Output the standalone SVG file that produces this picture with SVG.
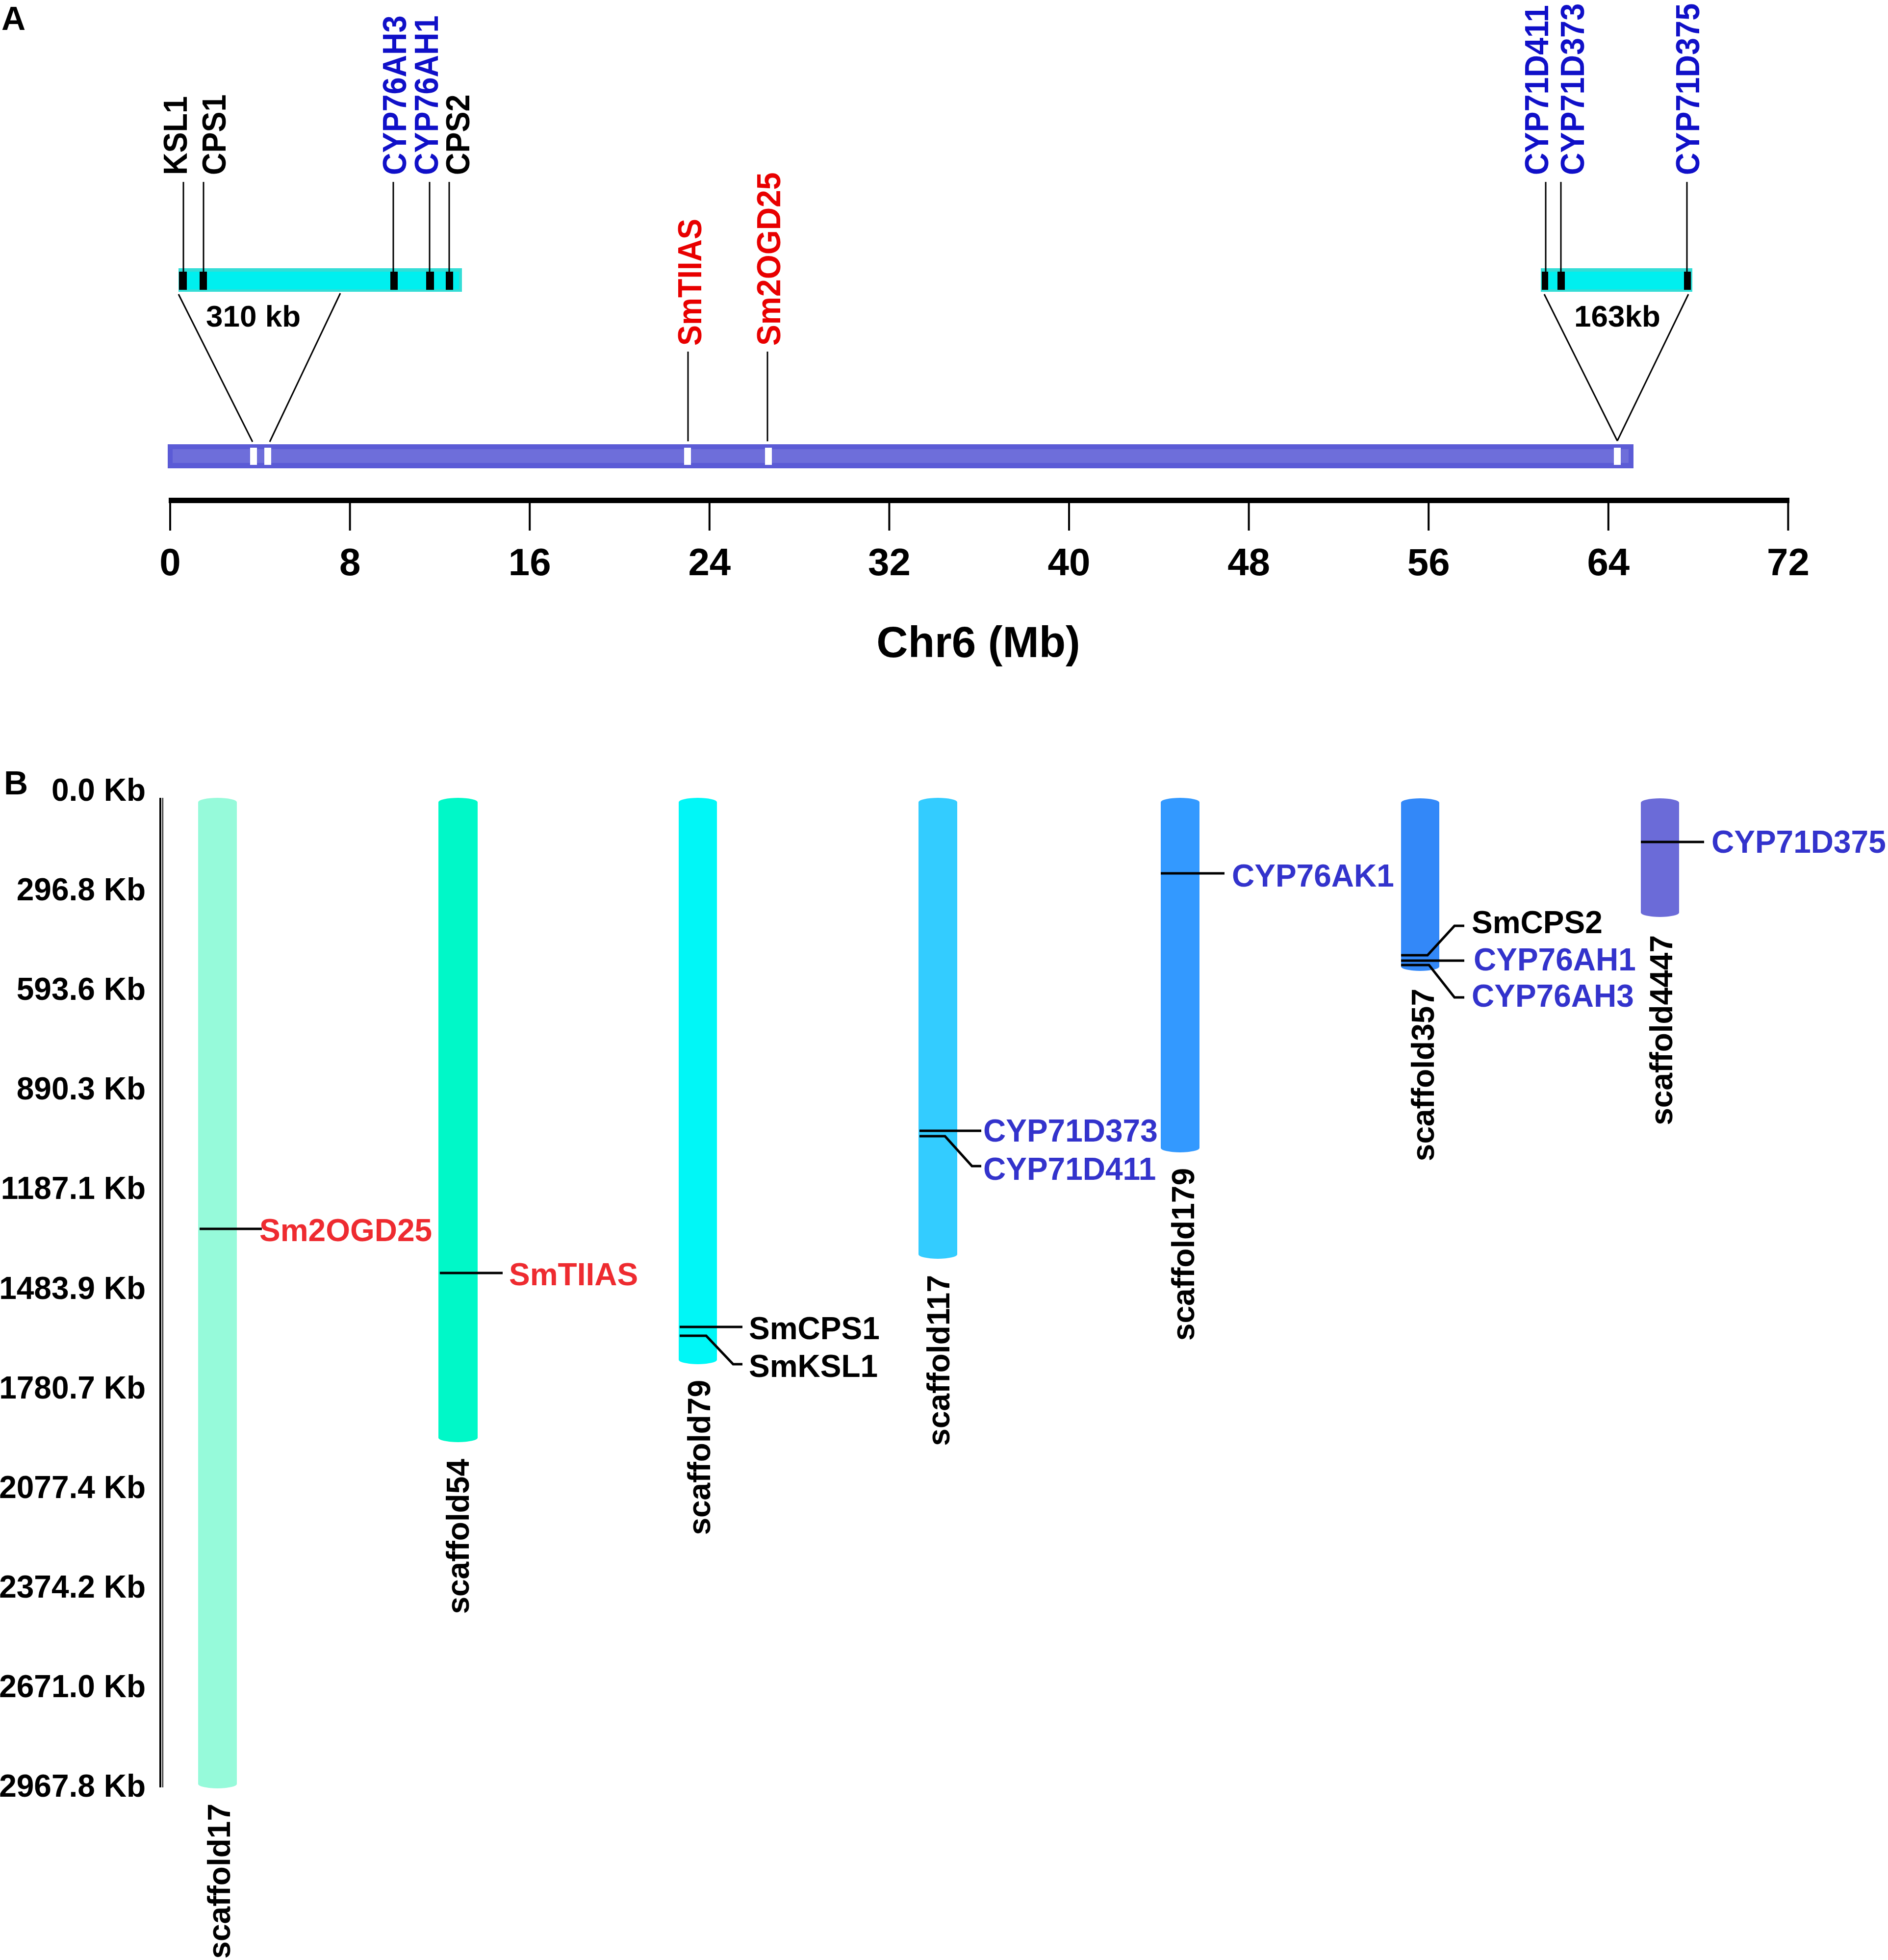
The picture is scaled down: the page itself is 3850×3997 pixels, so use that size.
<svg xmlns="http://www.w3.org/2000/svg" width="3850" height="3997" viewBox="0 0 3850 3997">
<style>
text{font-family:"Liberation Sans",Arial,sans-serif;font-weight:bold}
.k{fill:#000}
.ba{fill:#1010C8}
.ra{fill:#E80000}
.bb{fill:#3333CC}
.rb{fill:#EE2B30}
.vl{font-size:63px}
.gl{font-size:64px}
.ln{stroke:#000;stroke-width:3;fill:none}
.gln{stroke:#000;stroke-width:5;fill:none}
.mk{fill:#000}
.wm{fill:#fff}
</style>
<rect width="3850" height="3997" fill="#fff"/>
<text x="3" y="61" style="font-size:68px">A</text>
<text x="8" y="1620" style="font-size:68px">B</text>

<!-- Panel A: chromosome -->
<g id="chr6">
<rect x="342" y="906" width="2989" height="49" fill="#5B5BD6"/>
<rect x="352" y="916" width="2969" height="28" fill="#6E6EDA"/>
<rect class="wm" x="510" y="913" width="14" height="35"/>
<rect class="wm" x="539" y="913" width="14" height="35"/>
<rect class="wm" x="1395" y="913" width="14" height="35"/>
<rect class="wm" x="1560" y="913" width="14" height="35"/>
<rect class="wm" x="3291" y="913" width="14" height="35"/>
</g>

<g id="cluster310">
<rect x="364" y="547" width="578" height="48" fill="#33DDD6"/>
<rect x="370" y="554" width="566" height="36" fill="#00EFEF"/>
<rect class="mk" x="365" y="554" width="16" height="37"/>
<rect class="mk" x="407" y="554" width="15" height="37"/>
<rect class="mk" x="796" y="554" width="15" height="37"/>
<rect class="mk" x="869" y="554" width="16" height="37"/>
<rect class="mk" x="909" y="554" width="15" height="37"/>
<text x="420" y="666" style="font-size:62px">310 kb</text>
</g>

<g id="cluster163">
<rect x="3142" y="547" width="309" height="48" fill="#33DDD6"/>
<rect x="3148" y="554" width="297" height="36" fill="#00EFEF"/>
<rect class="mk" x="3144" y="554" width="13" height="37"/>
<rect class="mk" x="3176" y="554" width="15" height="37"/>
<rect class="mk" x="3434" y="554" width="14" height="37"/>
<text x="3210" y="666" style="font-size:62px">163kb</text>
</g>

<g id="labelsA">
<text class="vl k" transform="translate(381,357) rotate(-90) scale(1,1.1)">KSL1</text>
<text class="vl k" transform="translate(460,357) rotate(-90) scale(1,1.1)">CPS1</text>
<text class="vl ba" transform="translate(828,357) rotate(-90) scale(1,1.1)">CYP76AH3</text>
<text class="vl ba" transform="translate(893,357) rotate(-90) scale(1,1.1)">CYP76AH1</text>
<text class="vl k" transform="translate(957,357) rotate(-90) scale(1,1.1)">CPS2</text>
<text class="vl ra" transform="translate(1430,705) rotate(-90) scale(1,1.1)">SmTIIAS</text>
<text class="vl ra" transform="translate(1591,705) rotate(-90) scale(1.02,1.1)">Sm2OGD25</text>
<text class="vl ba" transform="translate(3157,357) rotate(-90) scale(1,1.1)">CYP71D411</text>
<text class="vl ba" transform="translate(3230,357) rotate(-90) scale(1,1.1)">CYP71D373</text>
<text class="vl ba" transform="translate(3465,357) rotate(-90) scale(1,1.1)">CYP71D375</text>
</g>

<g id="connectorsA">
<path class="ln" d="M374 371V555M415 371V555M802 371V555M876 371V555M916 371V555M3152 371V555M3183 371V555M3440 371V555M1403 717V900M1565 717V900"/>
<path class="ln" d="M364 600L515 901M694 598L550 901M3149 600L3298 899M3443 600L3298 899"/>
</g>

<g id="axisA">
<rect x="344" y="1015" width="3305" height="11" fill="#000"/>
<path stroke="#000" stroke-width="4" d="M347 1020V1082M713.6 1020V1082M1080.2 1020V1082M1446.8 1020V1082M1813.4 1020V1082M2180 1020V1082M2546.6 1020V1082M2913.2 1020V1082M3279.8 1020V1082M3646.4 1020V1082"/>
<g style="font-size:78px" text-anchor="middle">
<text x="347" y="1173">0</text>
<text x="713.6" y="1173">8</text>
<text x="1080.2" y="1173">16</text>
<text x="1446.8" y="1173">24</text>
<text x="1813.4" y="1173">32</text>
<text x="2180" y="1173">40</text>
<text x="2546.6" y="1173">48</text>
<text x="2913.2" y="1173">56</text>
<text x="3279.8" y="1173">64</text>
<text x="3646.4" y="1173">72</text>
</g>
<text x="1995" y="1340" text-anchor="middle" style="font-size:89px">Chr6 (Mb)</text>
</g>

<!-- Panel B -->
<g id="axisB">
<line x1="327" y1="1627" x2="327" y2="3645" stroke="#000" stroke-width="4"/>
<line x1="332" y1="1627" x2="332" y2="3645" stroke="#111" stroke-width="2"/>
<g style="font-size:64px" text-anchor="end">
<text x="297" y="1633">0.0 Kb</text>
<text x="297" y="1836">296.8 Kb</text>
<text x="297" y="2039">593.6 Kb</text>
<text x="297" y="2242">890.3 Kb</text>
<text x="297" y="2445">1187.1 Kb</text>
<text x="297" y="2649">1483.9 Kb</text>
<text x="297" y="2852">1780.7 Kb</text>
<text x="297" y="3055">2077.4 Kb</text>
<text x="297" y="3258">2374.2 Kb</text>
<text x="297" y="3461">2671.0 Kb</text>
<text x="297" y="3664">2967.8 Kb</text>
</g>
</g>

<g id="scaffold17">
<path fill="#96FADA" d="M404 1636A39.5 9 0 0 1 483 1636V3638A39.5 9 0 0 1 404 3638Z"/>
<text class="gl k" text-anchor="end" transform="translate(469,3678) rotate(-90)">scaffold17</text>
</g>
<g id="scaffold54">
<path fill="#00F8C8" d="M894 1636A40 9 0 0 1 974 1636V2932A40 9 0 0 1 894 2932Z"/>
<text class="gl k" text-anchor="end" transform="translate(956,2975) rotate(-90)">scaffold54</text>
</g>
<g id="scaffold79">
<path fill="#00F7F7" d="M1384 1636A39 9 0 0 1 1462 1636V2773A39 9 0 0 1 1384 2773Z"/>
<text class="gl k" text-anchor="end" transform="translate(1448,2814) rotate(-90)">scaffold79</text>
</g>
<g id="scaffold117">
<path fill="#33CCFF" d="M1873 1636A39.5 9 0 0 1 1952 1636V2558A39.5 9 0 0 1 1873 2558Z"/>
<text class="gl k" text-anchor="end" transform="translate(1936,2600) rotate(-90)">scaffold117</text>
</g>
<g id="scaffold179">
<path fill="#3399FF" d="M2367 1636A39.5 9 0 0 1 2446 1636V2341A39.5 9 0 0 1 2367 2341Z"/>
<text class="gl k" text-anchor="end" transform="translate(2435,2382) rotate(-90)">scaffold179</text>
</g>
<g id="scaffold357">
<path fill="#3388F8" d="M2857 1637A39 9 0 0 1 2935 1637V1971A39 9 0 0 1 2857 1971Z"/>
<text class="gl k" text-anchor="end" transform="translate(2924,2016) rotate(-90)">scaffold357</text>
</g>
<g id="scaffold4447">
<path fill="#6B6BD8" d="M3346 1637A39 9 0 0 1 3424 1637V1861A39 9 0 0 1 3346 1861Z"/>
<text class="gl k" text-anchor="end" transform="translate(3410,1907) rotate(-90)">scaffold4447</text>
</g>

<g id="genesB">
<text class="gl rb" x="529" y="2531">Sm2OGD25</text>
<text class="gl rb" x="1038" y="2621">SmTIIAS</text>
<text class="gl k" x="1527" y="2731">SmCPS1</text>
<text class="gl k" x="1527" y="2808">SmKSL1</text>
<text class="gl bb" x="2005" y="2328">CYP71D373</text>
<text class="gl bb" x="2005" y="2406">CYP71D411</text>
<text class="gl bb" x="2512" y="1808">CYP76AK1</text>
<text class="gl k" x="3001" y="1903">SmCPS2</text>
<text class="gl bb" x="3005" y="1979">CYP76AH1</text>
<text class="gl bb" x="3001" y="2053">CYP76AH3</text>
<text class="gl bb" x="3490" y="1739">CYP71D375</text>
</g>

<g id="connectorsB">
<path class="gln" d="M407 2506H534M897 2596H1025M1386 2706H1514M1386 2724H1440L1495 2782H1514M1875 2306H2001M1875 2317H1927L1982 2378H2001M2367 1781H2497M2857 1948H2911L2966 1888H2986M2857 1959H2986M2857 1968H2914L2966 2034H2986M3346 1717H3475"/>
</g>
</svg>
